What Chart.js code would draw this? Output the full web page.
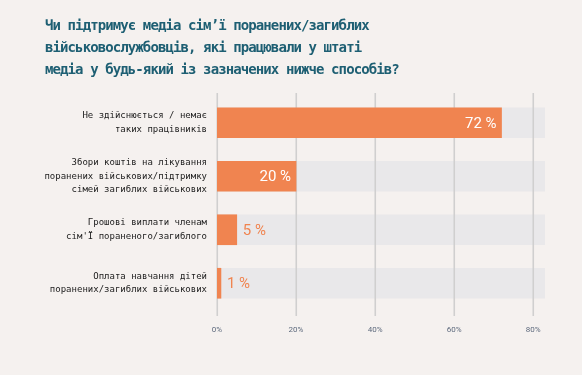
<!DOCTYPE html>
<html>
<head>
<meta charset="utf-8">
<script src="https://cdn.jsdelivr.net/npm/chart.js@4"></script>
<style>
  html, body { margin: 0; padding: 0; background: #f5f1ef; }
  #wrap { position: relative; width: 582px; height: 375px; overflow: hidden; background: #f5f1ef; }
  #title { position: absolute; left: 45px; top: 14px; font-family: "DejaVu Sans Mono", monospace; font-weight: bold;
           font-size: 14px; letter-spacing: -0.9px; line-height: 22px; color: #1e5f73; white-space: nowrap; }
  canvas { position: absolute; left: 0; top: 0; }
</style>
</head>
<body>
<div id="wrap">
  <canvas id="c" width="582" height="375"></canvas>
  <div id="title">Чи підтримує медіа сім’ї поранених/загиблих<br>військовослужбовців, які працювали у штаті<br>медіа у будь-який із зазначених нижче способів?</div>
</div>
<script>
const categories = [
  ["Не здійснюється / немає", "таких працівників"],
  ["Збори коштів на лікування", "поранених військових/підтримку", "сімей загиблих військових"],
  ["Грошові виплати членам", "сім'Ї пораненого/загиблого"],
  ["Оплата навчання дітей", "поранених/загиблих військових"]
];
const values = [72, 20, 5, 1];
const tickValues = [0, 20, 40, 60, 80];
const axisMax = 83;
const trackValues = categories.map(() => axisMax);

const ORANGE = '#f08450';
const TRACK = '#e9e8ea';
const GRID = '#d0cfcf';

const gridPlugin = {
  id: 'gridBetween',
  beforeDatasetDraw(chart, args) {
    if (args.index !== 0) return;
    const ctx = chart.ctx, xs = chart.scales.x, area = chart.chartArea;
    ctx.save();
    ctx.strokeStyle = GRID;
    ctx.lineWidth = 1.6;
    tickValues.forEach(v => {
      const x = Math.round(xs.getPixelForValue(v)) + 0.25;
      ctx.beginPath();
      ctx.moveTo(x, area.top - 3);
      ctx.lineTo(x, area.bottom + 6);
      ctx.stroke();
    });
    ctx.restore();
  }
};

const valueLabels = {
  id: 'valueLabels',
  afterDatasetsDraw(chart) {
    const ctx = chart.ctx;
    const meta = chart.getDatasetMeta(0);
    ctx.save();
    ctx.font = '15px "Liberation Sans Narrow", "Roboto", sans-serif';
    ctx.textBaseline = 'middle';
    meta.data.forEach((bar, i) => {
      const v = values[i];
      const txt = v + ' %';
      if (v >= 10) {
        ctx.fillStyle = '#ffffff';
        ctx.textAlign = 'right';
        ctx.fillText(txt, bar.x - 5, bar.y + 1);
      } else {
        ctx.fillStyle = ORANGE;
        ctx.textAlign = 'left';
        ctx.fillText(txt, bar.x + 6, bar.y + 1);
      }
    });
    ctx.restore();
  }
};

new Chart(document.getElementById('c'), {
  type: 'bar',
  data: {
    labels: categories,
    datasets: [
      { data: values, backgroundColor: ORANGE, barThickness: 30, grouped: false, order: 1 },
      { data: trackValues, backgroundColor: TRACK, barThickness: 30, grouped: false, order: 2 }
    ]
  },
  options: {
    indexAxis: 'y',
    responsive: false,
    animation: false,
    devicePixelRatio: 1,
    layout: { padding: { left: 0, right: 37, top: 96, bottom: 0 } },
    plugins: { legend: { display: false }, tooltip: { enabled: false }, title: { display: false } },
    scales: {
      x: {
        min: 0, max: axisMax,
        afterBuildTicks(scale) { scale.ticks = tickValues.map(v => ({ value: v })); },
        afterFit(scale) { scale.height = 65; },
        grid: { display: false, drawTicks: false },
        border: { display: false },
        ticks: {
          padding: 15,
          font: { family: 'Roboto, sans-serif', size: 8 },
          color: '#5e6a7d',
          callback: v => v + '%'
        }
      },
      y: {
        afterFit(scale) { scale.width = 217; },
        grid: { display: false, drawTicks: false },
        border: { display: false },
        ticks: {
          padding: 10,
          font: { family: '"DejaVu Sans Mono", monospace', size: 9, lineHeight: 1.48 },
          color: '#1b1b1b'
        }
      }
    }
  },
  plugins: [gridPlugin, valueLabels]
});
</script>
</body>
</html>
